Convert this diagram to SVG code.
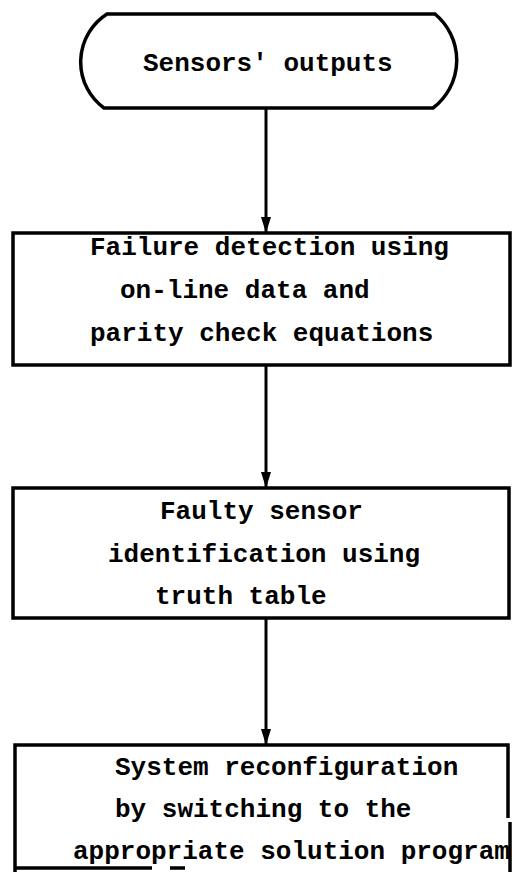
<svg xmlns="http://www.w3.org/2000/svg" width="512" height="872" viewBox="0 0 512 872">
  <style>
    .box { fill: none; stroke: #000; stroke-width: 3.5; }
    .edge { fill: none; stroke: #000; stroke-width: 3; }
    .lbl { font-family: "Liberation Mono", "Courier New", monospace; font-size: 26px; font-weight: bold; fill: #000; }
  </style>
  <defs>
    <marker id="arrow" viewBox="0 0 16 10" refX="16" refY="5" markerWidth="16" markerHeight="10" markerUnits="userSpaceOnUse" orient="auto">
      <path d="M0,0 L16,5 L0,10 z" fill="#000"/>
    </marker>
  </defs>
  <rect width="512" height="872" fill="#fff"/>

  <!-- start terminal -->
  <g id="sensors">
    <path class="box" d="M107,14 L435,14 A60 60 0 0 1 433,108 L104,108 A57 57 0 0 1 107,14 Z"/>
    <text class="lbl" x="143" y="71">Sensors' outputs</text>
  </g>

  <!-- failure detection -->
  <g id="detection">
    <rect class="box" x="13" y="233" width="497" height="132"/>
    <text class="lbl" x="90" y="255">Failure detection using</text>
    <text class="lbl" x="120" y="298">on-line data and</text>
    <text class="lbl" x="90" y="341">parity check equations</text>
  </g>

  <!-- faulty sensor identification -->
  <g id="identification">
    <rect class="box" x="13" y="488" width="496" height="130"/>
    <text class="lbl" x="160" y="519">Faulty sensor</text>
    <text class="lbl" x="108" y="562">identification using</text>
    <text class="lbl" x="155" y="604">truth table</text>
  </g>

  <!-- reconfiguration -->
  <g id="reconfiguration">
    <path class="box" d="M15,872 L15,745 L508,745 L508,818"/>
    <path class="box" d="M510,822 L510,872"/>
    <path class="box" d="M15,868 L152,868 M170,868 L185,868"/>
    <text class="lbl" x="115" y="775">System reconfiguration</text>
    <text class="lbl" x="115" y="817">by switching to the</text>
    <text class="lbl" x="73" y="859">appropriate solution program</text>
  </g>

  <!-- connectors -->
  <g id="connectors">
    <line class="edge" x1="266" y1="108" x2="266" y2="233" marker-end="url(#arrow)"/>
    <line class="edge" x1="266" y1="365" x2="266" y2="488" marker-end="url(#arrow)"/>
    <line class="edge" x1="266" y1="618" x2="266" y2="745" marker-end="url(#arrow)"/>
  </g>
</svg>
